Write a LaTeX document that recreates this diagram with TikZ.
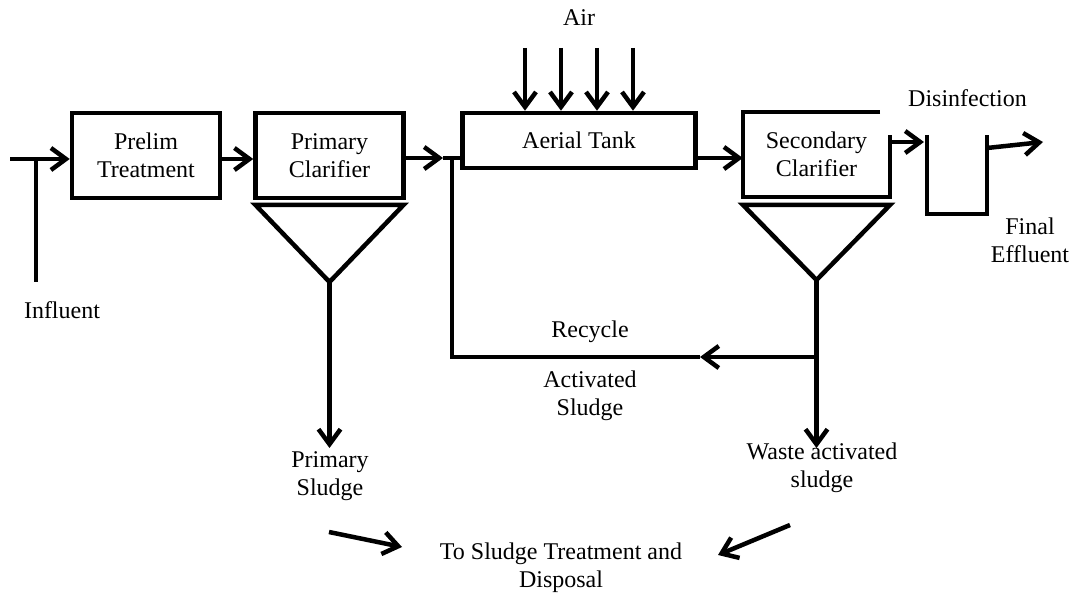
\documentclass[tikz,border=0pt]{standalone}
\usepackage{fontspec}
\setmainfont{Liberation Serif}
\usetikzlibrary{arrows.meta}
\begin{document}
\begin{tikzpicture}[x=1pt,y=-1pt,
  every node/.style={font=\fontsize{24}{28}\selectfont, align=center, inner sep=0pt},
  pipe/.style={line width=4.5pt, line join=miter},
  flow/.style={pipe, -{Straight Barb[length=15pt,width=22pt]}},
  unit/.style={draw, line width=4.5pt, inner sep=0pt}]
\useasboundingbox (0,0) rectangle (1072,596);

% treatment units
\node[unit, minimum width=148pt, minimum height=85pt] (prelim) at (146,155.5) {Prelim\\Treatment};
\node[unit, minimum width=148pt, minimum height=85pt] (primary) at (329.5,155.5) {Primary\\Clarifier};
\node[unit, minimum width=233pt, minimum height=55pt] (aerial) at (579,140.5) {Aerial Tank};
\node[minimum width=147pt, minimum height=85pt] (secondary) at (816.5,154.5) {Secondary\\Clarifier};

% open outline of the secondary clarifier
\draw[pipe] ([xshift=-10pt]secondary.north east) -- (secondary.north west) -- (secondary.south west)
  -- (secondary.south east) -- ([yshift=-23pt]secondary.north east);

% sludge hoppers
\coordinate (pa) at (329.5,282);
\coordinate (sa) at (816.5,280);
\draw[pipe] (255.5,205) -- (403.5,205) -- (pa) -- cycle;
\draw[pipe] (743,205) -- (890,205) -- (sa) -- cycle;

% influent
\coordinate (in0) at (10,159);
\coordinate (in1) at (36,159);
\coordinate (in2) at (36,282);
\draw[pipe] (in1) -- (in2);
\draw[flow] (in0) -- (prelim.west |- in0);
\node (influent) at (62,310) {Influent};

% main line
\draw[flow] (prelim.east |- in0) -- (primary.west |- in0);
\coordinate (j0) at (443,158);
\coordinate (j1) at (452,158);
\draw[flow] (primary.east |- j0) -- (j0);
\draw[pipe] (j0) -- (aerial.west |- j0);
\draw[flow] (aerial.east |- j0) -- (secondary.west |- j0);

% air supply
\node (air) at (579,18) {Air};
\foreach \x/\n in {525/a1,561/a2,597/a3,633/a4}{
  \coordinate (\n) at (\x,48);
  \draw[flow] (\n) -- (\n |- aerial.north);
}

% disinfection contact tank
\coordinate (d0) at (890,142);
\coordinate (d1) at (927,135);
\coordinate (d2) at (927,214);
\coordinate (d3) at (987,214);
\coordinate (d4) at (987,135);
\draw[flow] (d0) -- (924,142);
\draw[pipe] (d1) -- (d2) -- (d3) -- (d4);
\coordinate (o0) at (987,148);
\coordinate (o1) at (1043,142);
\draw[flow] (o0) -- (o1);
\node (disinfection) at (967.5,98) {Disinfection};
\node (final) at (1030,240) {Final\\Effluent};

% sludge lines
\coordinate (ps) at (329.5,448);
\draw[flow] (pa) -- (ps);
\node (psl) at (330,476) {Primary\\Sludge};

\coordinate (r1) at (816.5,357);
\coordinate (r2) at (700,357);
\coordinate (r3) at (452,357);
\coordinate (ws) at (816.5,448);
\draw[flow] (sa) -- (ws);
\draw[flow] (r1) -- (r2);
\draw[pipe] (r2) -- (r3) -- (j1);
\node (recycle) at (590,332) {Recycle};
\node (ras) at (590,396) {Activated\\Sludge};
\node (was) at (822,468) {Waste activated\\sludge};

% to sludge treatment
\node (disposal) at (561,568) {To Sludge Treatment and\\Disposal};
\coordinate (b0) at (329,532);
\coordinate (b1) at (402,547);
\coordinate (b2) at (790,525);
\coordinate (b3) at (718,555);
\draw[flow] (b0) -- (b1);
\draw[flow] (b2) -- (b3);
\end{tikzpicture}
\end{document}
